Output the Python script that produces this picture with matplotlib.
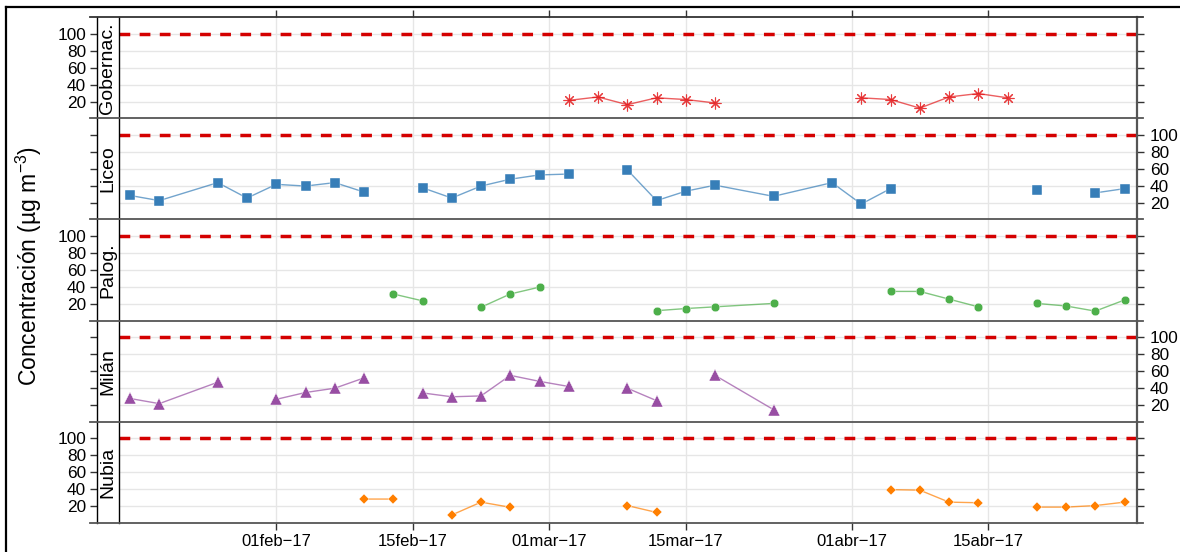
import datetime as dt

import matplotlib
matplotlib.use("Agg")
import matplotlib.dates as mdates
import matplotlib.pyplot as plt
import numpy as np
from matplotlib.lines import Line2D

plt.rcParams["font.family"] = ["Liberation Sans", "DejaVu Sans"]
plt.rcParams["mathtext.fontset"] = "custom"
plt.rcParams["mathtext.rm"] = "Liberation Sans"
plt.rcParams["axes.unicode_minus"] = True

# ---- data ------------------------------------------------------------------

DATES = [
    "2017-01-17", "2017-01-20", "2017-01-26", "2017-01-29", "2017-02-01",
    "2017-02-04", "2017-02-07", "2017-02-10", "2017-02-13", "2017-02-16",
    "2017-02-19", "2017-02-22", "2017-02-25", "2017-02-28", "2017-03-03",
    "2017-03-06", "2017-03-09", "2017-03-12", "2017-03-15", "2017-03-18",
    "2017-03-24", "2017-03-30", "2017-04-02", "2017-04-05", "2017-04-08",
    "2017-04-11", "2017-04-14", "2017-04-17", "2017-04-20", "2017-04-23",
    "2017-04-26", "2017-04-29",
]
N = None
GOBERNAC = [N, N, N, N, N, N, N, N, N, N, N, N, N, N,
            22, 26, 17, 25, 23, 19, N, N,
            25, 23, 13, 26, 30, 25, N, N, N, N]
LICEO = [29, 23, 44, 26, 42, 40, 44, 33, N, 38, 26, 40, 48, 53, 54, N,
         59, 23, 34, 41, 28, 44, 19, 37, N, N, N, N, 35, N, 32, 37]
PALOG = [N, N, N, N, N, N, N, N, 32, 24, N, 16.5, 32, 40, N, N,
         N, 12.5, 15, 17, 21, N, N, 35, 35, 26, 17, N, 21, 18, 12, 25]
MILAN = [28, 22, 47, N, 27, 35, 40, 52, N, 34.5, 30, 31, 55, 48, 42, N,
         40, 25.5, N, 55, 15, N, N, N, N, N, N, N, N, N, N, N]
NUBIA = [N, N, N, N, N, N, N, 28.6, 28.6, N, 10, 25, 19, N, N, N,
         21, 13, N, N, N, N, N, 39.6, 39, 25, 24.3, N, 19.2, 19.2, 21, 25]

STATIONS = ["Gobernac.", "Liceo", "Palog.", "Milán", "Nubia"]
SERIES = [GOBERNAC, LICEO, PALOG, MILAN, NUBIA]
LIMIT = 100

TICK_DATES = ["2017-02-01", "2017-02-15", "2017-03-01",
              "2017-03-15", "2017-04-01", "2017-04-15"]
TICK_LABELS = ["01feb\u221217", "15feb\u221217", "01mar\u221217",
               "15mar\u221217", "01abr\u221217", "15abr\u221217"]
Y_TICKS = [20, 40, 60, 80, 100]

# ---- style -----------------------------------------------------------------

COLORS = ["#E41A1C", "#377EB8", "#4DAF4A", "#984EA3", "#FF7F00"]
MARKERS = [(8, 2, 0), "s", "o", "^", "D"]
MSIZES = [8.5, 7.4, 6.2, 8.0, 5.0]
C_LIMIT = "#D40000"
C_GRID = "#E6E6E6"
C_FRAME = "#555555"

W, H = 1180, 552


def fx(px):
    return px / W


def fy(py):
    return 1 - py / H


fig = plt.figure(figsize=(W / 100, H / 100), dpi=100)

x_left, x_right = 118.6, 1136.8
strip_left = 97.3
top, bottom = 17.3, 522.7
ph = (bottom - top) / 5

feb1 = mdates.date2num(dt.datetime(2017, 2, 1))
xlim = (feb1 - 16.17, feb1 + 88.26)
ylim = (1, 119)

dates = [dt.datetime.strptime(d, "%Y-%m-%d") for d in DATES]
ticks = [dt.datetime.strptime(d, "%Y-%m-%d") for d in TICK_DATES]

for i, (name, vals) in enumerate(zip(STATIONS, SERIES)):
    y_top = top + i * ph
    rect = [fx(x_left), fy(y_top + ph), fx(x_right) - fx(x_left), ph / H]
    ax = fig.add_axes(rect)
    srect = [fx(strip_left), fy(y_top + ph), fx(x_left) - fx(strip_left), ph / H]
    st = fig.add_axes(srect)

    v = np.array([np.nan if x is None else x for x in vals], dtype=float)
    ax.plot(dates, v, color=COLORS[i], lw=1.0, alpha=0.7, zorder=3)
    if i == 0:
        mkw = dict(mew=0.8, alpha=0.85)
    else:
        mkw = dict(mew=0.3, mec="white")
    ax.plot(dates, v, ls="none", marker=MARKERS[i], ms=MSIZES[i],
            color=COLORS[i], zorder=4, **mkw)
    ax.axhline(LIMIT, color=C_LIMIT, lw=2.5, dashes=(3.1, 2.7), zorder=2)

    ax.set_xlim(*xlim)
    ax.set_ylim(*ylim)
    ax.set_xticks(ticks)
    ax.set_yticks(Y_TICKS)
    ax.grid(True, color=C_GRID, lw=1.0, zorder=0)
    ax.set_axisbelow(True)

    for side in ("top", "bottom", "left"):
        ax.spines[side].set_visible(False)
    ax.spines["right"].set_color(C_FRAME)
    ax.spines["right"].set_linewidth(1.6)

    ax.tick_params(axis="y", left=False, labelleft=False, right=True,
                   labelright=(i % 2 == 1), direction="out", length=5,
                   width=1.0, color="#333333", labelsize=12.4, pad=4.5)
    ax.tick_params(axis="x", top=(i == 0), bottom=(i == 4), labeltop=False,
                   labelbottom=(i == 4), direction="out", length=5,
                   width=1.0, color="#333333", labelsize=12, pad=3)
    if i == 4:
        ax.set_xticklabels(TICK_LABELS)

    # strip on the left
    st.set_ylim(*ylim)
    st.set_xticks([])
    st.set_yticks(Y_TICKS)
    st.tick_params(axis="y", left=True, labelleft=(i % 2 == 0),
                   direction="out", length=5, width=1.0, color="#333333",
                   labelsize=12.4, pad=3)
    for side in ("top", "bottom"):
        st.spines[side].set_visible(False)
    for side in ("left", "right"):
        st.spines[side].set_color("black")
        st.spines[side].set_linewidth(1.0)
    st.text(0.5, 0.5, name, rotation=90, ha="center", va="center",
            fontsize=14, transform=st.transAxes)

# panel separators, reaching over the tick areas
for k in range(6):
    yb = top + k * ph
    col = "#333333" if k == 0 else C_FRAME
    fig.add_artist(Line2D([fx(90), fx(1142.7)], [fy(yb), fy(yb)],
                          color=col, lw=1.3))

# outer frame
fig.add_artist(Line2D([fx(6), fx(6)], [fy(7), 0], color="black", lw=1.6))
fig.add_artist(Line2D([fx(6), 1], [fy(7), fy(7)], color="black", lw=1.6))

fig.text(fx(29), fy(266), "Concentración (µg m$^{-3}$)", rotation=90,
         ha="center", va="center", fontsize=16.5)

fig.savefig("out.png", dpi=100)
